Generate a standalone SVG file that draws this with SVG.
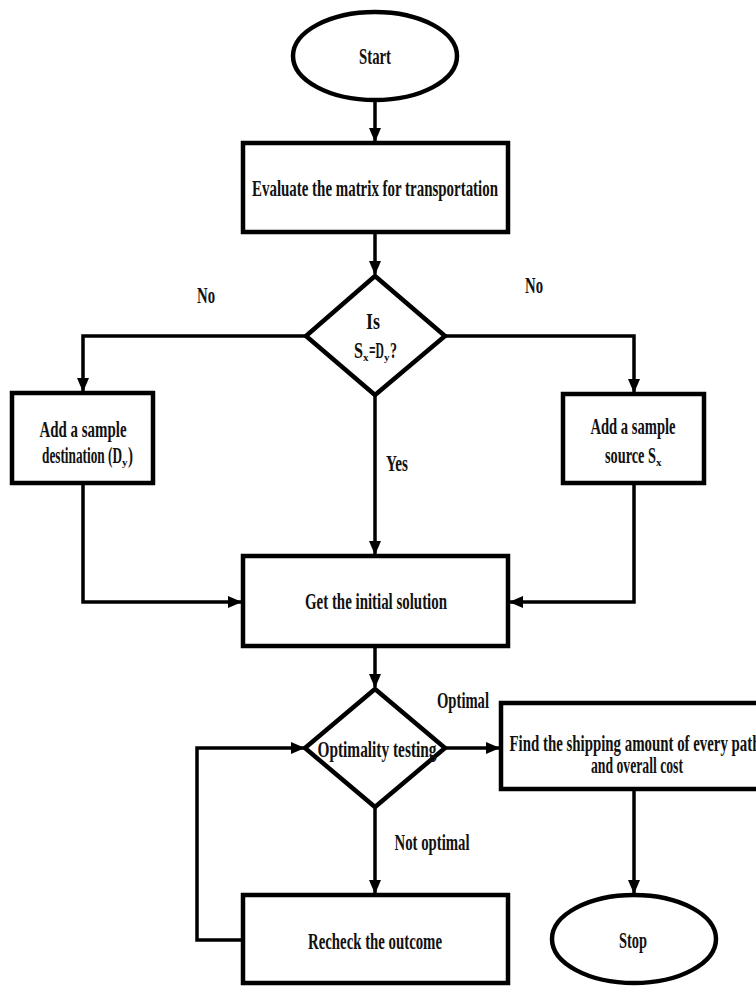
<svg xmlns="http://www.w3.org/2000/svg" width="756" height="986" viewBox="0 0 756 986">
  <style>
    .shape { fill: #ffffff; stroke: #000000; stroke-width: 4.5; }
    .conn { fill: none; stroke: #000000; stroke-width: 3.5; }
    text { font-family: "Liberation Serif", "Times New Roman", serif; font-weight: bold; font-size: 24px; fill: #111111; text-anchor: middle; }
    .st { text-anchor: start; }
    .sub { font-size: 11px; text-anchor: start; }
  </style>
  <defs>
    <marker id="arrow" markerUnits="userSpaceOnUse" markerWidth="14" markerHeight="12" refX="13" refY="6" orient="auto">
      <path d="M0,0 L14,6 L0,12 Z" fill="#000000"/>
    </marker>
  </defs>
  <rect width="756" height="986" fill="#ffffff"/>

  <g id="connectors">
    <path class="conn" d="M375,101 L375,141" marker-end="url(#arrow)"/>
    <path class="conn" d="M375,234 L375,274" marker-end="url(#arrow)"/>
    <path class="conn" d="M306,336 L83,336 L83,391" marker-end="url(#arrow)"/>
    <path class="conn" d="M445,336 L634,336 L634,392" marker-end="url(#arrow)"/>
    <path class="conn" d="M375,395 L375,554" marker-end="url(#arrow)"/>
    <path class="conn" d="M83,485 L83,602 L241,602" marker-end="url(#arrow)"/>
    <path class="conn" d="M634,485 L634,602 L510,602" marker-end="url(#arrow)"/>
    <path class="conn" d="M375,648 L375,687" marker-end="url(#arrow)"/>
    <path class="conn" d="M445,748 L499,748" marker-end="url(#arrow)"/>
    <path class="conn" d="M634,790 L634,893" marker-end="url(#arrow)"/>
    <path class="conn" d="M375,807 L375,893" marker-end="url(#arrow)"/>
    <path class="conn" d="M243,940 L197,940 L197,748 L304,748" marker-end="url(#arrow)"/>
  </g>

  <g id="start">
    <ellipse class="shape" cx="375" cy="56" rx="82" ry="44"/>
    <text x="375" y="64" textLength="32" lengthAdjust="spacingAndGlyphs">Start</text>
  </g>

  <g id="evaluate">
    <rect class="shape" x="243" y="143" width="265" height="89"/>
    <text x="375" y="196" textLength="246" lengthAdjust="spacingAndGlyphs">Evaluate the matrix for transportation</text>
  </g>

  <g id="decision1">
    <polygon class="shape" points="375,276 445,336 375,395 306,336"/>
    <text x="373" y="329" font-size="21" textLength="14" lengthAdjust="spacingAndGlyphs">Is</text>
    <text class="st" x="354" y="358" font-size="21" textLength="9" lengthAdjust="spacingAndGlyphs">S</text>
    <text class="sub" x="363" y="361">x</text>
    <text class="st" x="369" y="358" font-size="21" textLength="15" lengthAdjust="spacingAndGlyphs">=D</text>
    <text class="sub" x="384" y="361">y</text>
    <text class="st" x="390" y="358" font-size="21" textLength="7" lengthAdjust="spacingAndGlyphs">?</text>
  </g>

  <g id="add-destination">
    <rect class="shape" x="12" y="393" width="141" height="90"/>
    <text x="83" y="437" textLength="87" lengthAdjust="spacingAndGlyphs">Add a sample</text>
    <text class="st" x="42" y="463" textLength="80" lengthAdjust="spacingAndGlyphs">destination (D</text>
    <text class="sub" x="122" y="466">y</text>
    <text class="st" x="128" y="463" textLength="5" lengthAdjust="spacingAndGlyphs">)</text>
  </g>

  <g id="add-source">
    <rect class="shape" x="563" y="394" width="141" height="89"/>
    <text x="633" y="434" textLength="85" lengthAdjust="spacingAndGlyphs">Add a sample</text>
    <text class="st" x="605" y="463" textLength="51" lengthAdjust="spacingAndGlyphs">source S</text>
    <text class="sub" x="656" y="466">x</text>
  </g>

  <g id="initial-solution">
    <rect class="shape" x="243" y="556" width="265" height="90"/>
    <text x="376" y="609" textLength="142" lengthAdjust="spacingAndGlyphs">Get the initial solution</text>
  </g>

  <g id="optimality">
    <polygon class="shape" points="375,689 445,748 375,807 305,748"/>
    <text x="377" y="757" textLength="119" lengthAdjust="spacingAndGlyphs">Optimality testing</text>
  </g>

  <g id="shipping">
    <rect class="shape" x="501" y="703" width="268" height="86"/>
    <text x="635" y="751" textLength="251" lengthAdjust="spacingAndGlyphs">Find the shipping amount of every path</text>
    <text x="637" y="773" textLength="92" lengthAdjust="spacingAndGlyphs">and overall cost</text>
  </g>

  <g id="recheck">
    <rect class="shape" x="243" y="895" width="265" height="88"/>
    <text x="375" y="949" textLength="134" lengthAdjust="spacingAndGlyphs">Recheck the outcome</text>
  </g>

  <g id="stop">
    <ellipse class="shape" cx="634" cy="939" rx="82" ry="44"/>
    <text x="633" y="948" textLength="28" lengthAdjust="spacingAndGlyphs">Stop</text>
  </g>

  <g id="labels">
    <text x="206" y="303" textLength="18" lengthAdjust="spacingAndGlyphs">No</text>
    <text x="534" y="293" textLength="18" lengthAdjust="spacingAndGlyphs">No</text>
    <text x="397" y="471" textLength="22" lengthAdjust="spacingAndGlyphs">Yes</text>
    <text x="463" y="708" textLength="52" lengthAdjust="spacingAndGlyphs">Optimal</text>
    <text x="432" y="850" textLength="75" lengthAdjust="spacingAndGlyphs">Not optimal</text>
  </g>
</svg>
